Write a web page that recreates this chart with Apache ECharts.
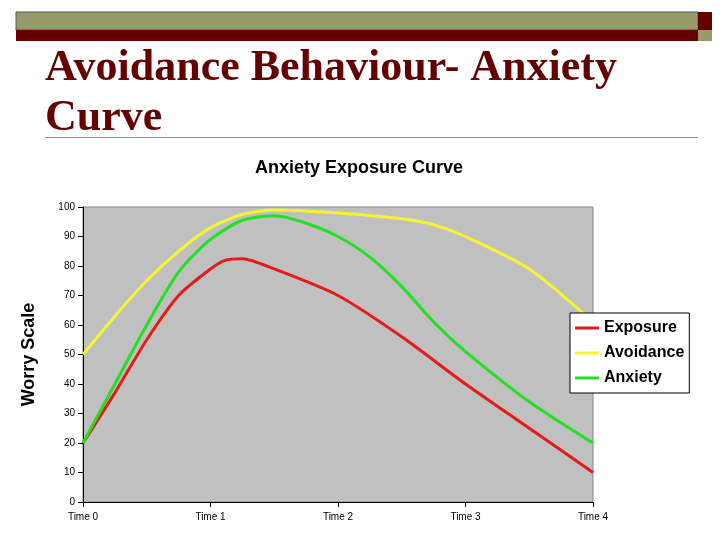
<!DOCTYPE html><html><head><meta charset="utf-8">
<script src="https://cdn.jsdelivr.net/npm/echarts@6/dist/echarts.min.js"></script>
<style>body{margin:0;background:#fff}#c{width:728px;height:546px}</style></head><body><div id="c"></div>
<script>
const xLabels=['Time 0','Time 1','Time 2','Time 3','Time 4'];
const exposure=[[0,20],[0.25,37],[0.5,55],[0.75,70],[1,79],[1.12,82],[1.25,82.5],[1.5,79],[2,70],[2.5,56],[3,40],[3.5,25],[4,10]];
const avoidance=[[0,50],[0.25,63],[0.5,75],[0.75,85],[1,93],[1.25,97.5],[1.5,99],[2,98],[2.5,96],[2.75,94],[3,90],[3.5,79],[4,61]];
const anxiety=[[0,20],[0.25,40],[0.5,60],[0.75,78],[1,89],[1.25,95.5],[1.5,97],[1.75,94.5],[2,90],[2.25,83],[2.5,73],[2.75,61],[3,51],[3.5,34],[4,20]];
const ch=echarts.init(document.getElementById('c'));
const mk=(n,d,c)=>({name:n,type:'line',data:d,smooth:0.25,symbol:'none',lineStyle:{color:c,width:3},itemStyle:{color:c}});
ch.setOption({
 animation:false,
 graphic:[
  {type:'rect',shape:{x:16,y:12,width:682,height:18},style:{fill:'#9a9a68',stroke:'#555',lineWidth:1}},
  {type:'rect',shape:{x:16,y:30,width:682,height:11},style:{fill:'#640000'}},
  {type:'rect',shape:{x:698,y:12,width:14,height:18},style:{fill:'#640000'}},
  {type:'rect',shape:{x:698,y:30,width:14,height:11},style:{fill:'#9a9a68'}},
  {type:'text',left:45,top:44,style:{text:'Avoidance Behaviour- Anxiety\nCurve',font:'bold 44px "Liberation Serif"',fill:'#640000',lineHeight:50}},
  {type:'rect',shape:{x:45,y:137,width:653,height:1},style:{fill:'#888'}},
  {type:'rect',z:-1,shape:{x:83,y:207,width:510,height:295},style:{fill:'#c0c0c0',stroke:'#888'}}
 ],
 title:{text:'Anxiety Exposure Curve',left:354,top:154,textAlign:'center',textStyle:{fontFamily:'Liberation Sans',fontWeight:'bold',fontSize:18,color:'#000'}},
 legend:{orient:'vertical',left:570,top:313,itemGap:9,itemWidth:24,itemHeight:3,icon:'rect',backgroundColor:'#fff',borderColor:'#000',borderWidth:1,padding:[7,5,7,5],
  textStyle:{fontFamily:'Liberation Sans',fontWeight:'bold',fontSize:16,color:'#000'}},
 grid:{left:83,top:207,width:510,height:295},
 xAxis:{type:'value',min:0,max:4,interval:1,axisLine:{lineStyle:{color:'#000'}},axisTick:{show:true,lineStyle:{color:'#000'}},splitLine:{show:false},
  axisLabel:{formatter:v=>xLabels[v],fontSize:10,color:'#000',fontFamily:'Liberation Sans',margin:10}},
 yAxis:{type:'value',min:0,max:100,interval:10,name:'Worry Scale',nameLocation:'middle',nameGap:45,nameTextStyle:{fontFamily:'Liberation Sans',fontWeight:'bold',fontSize:18,color:'#000'},
  axisLine:{show:true,lineStyle:{color:'#000'}},axisTick:{show:true,lineStyle:{color:'#000'}},splitLine:{show:false},axisLabel:{fontSize:10,color:'#000',fontFamily:'Liberation Sans'}},
 series:[mk('Exposure',exposure,'#e51b1b'),mk('Avoidance',avoidance,'#f5f530'),mk('Anxiety',anxiety,'#22e022')]
});
</script></body></html>
